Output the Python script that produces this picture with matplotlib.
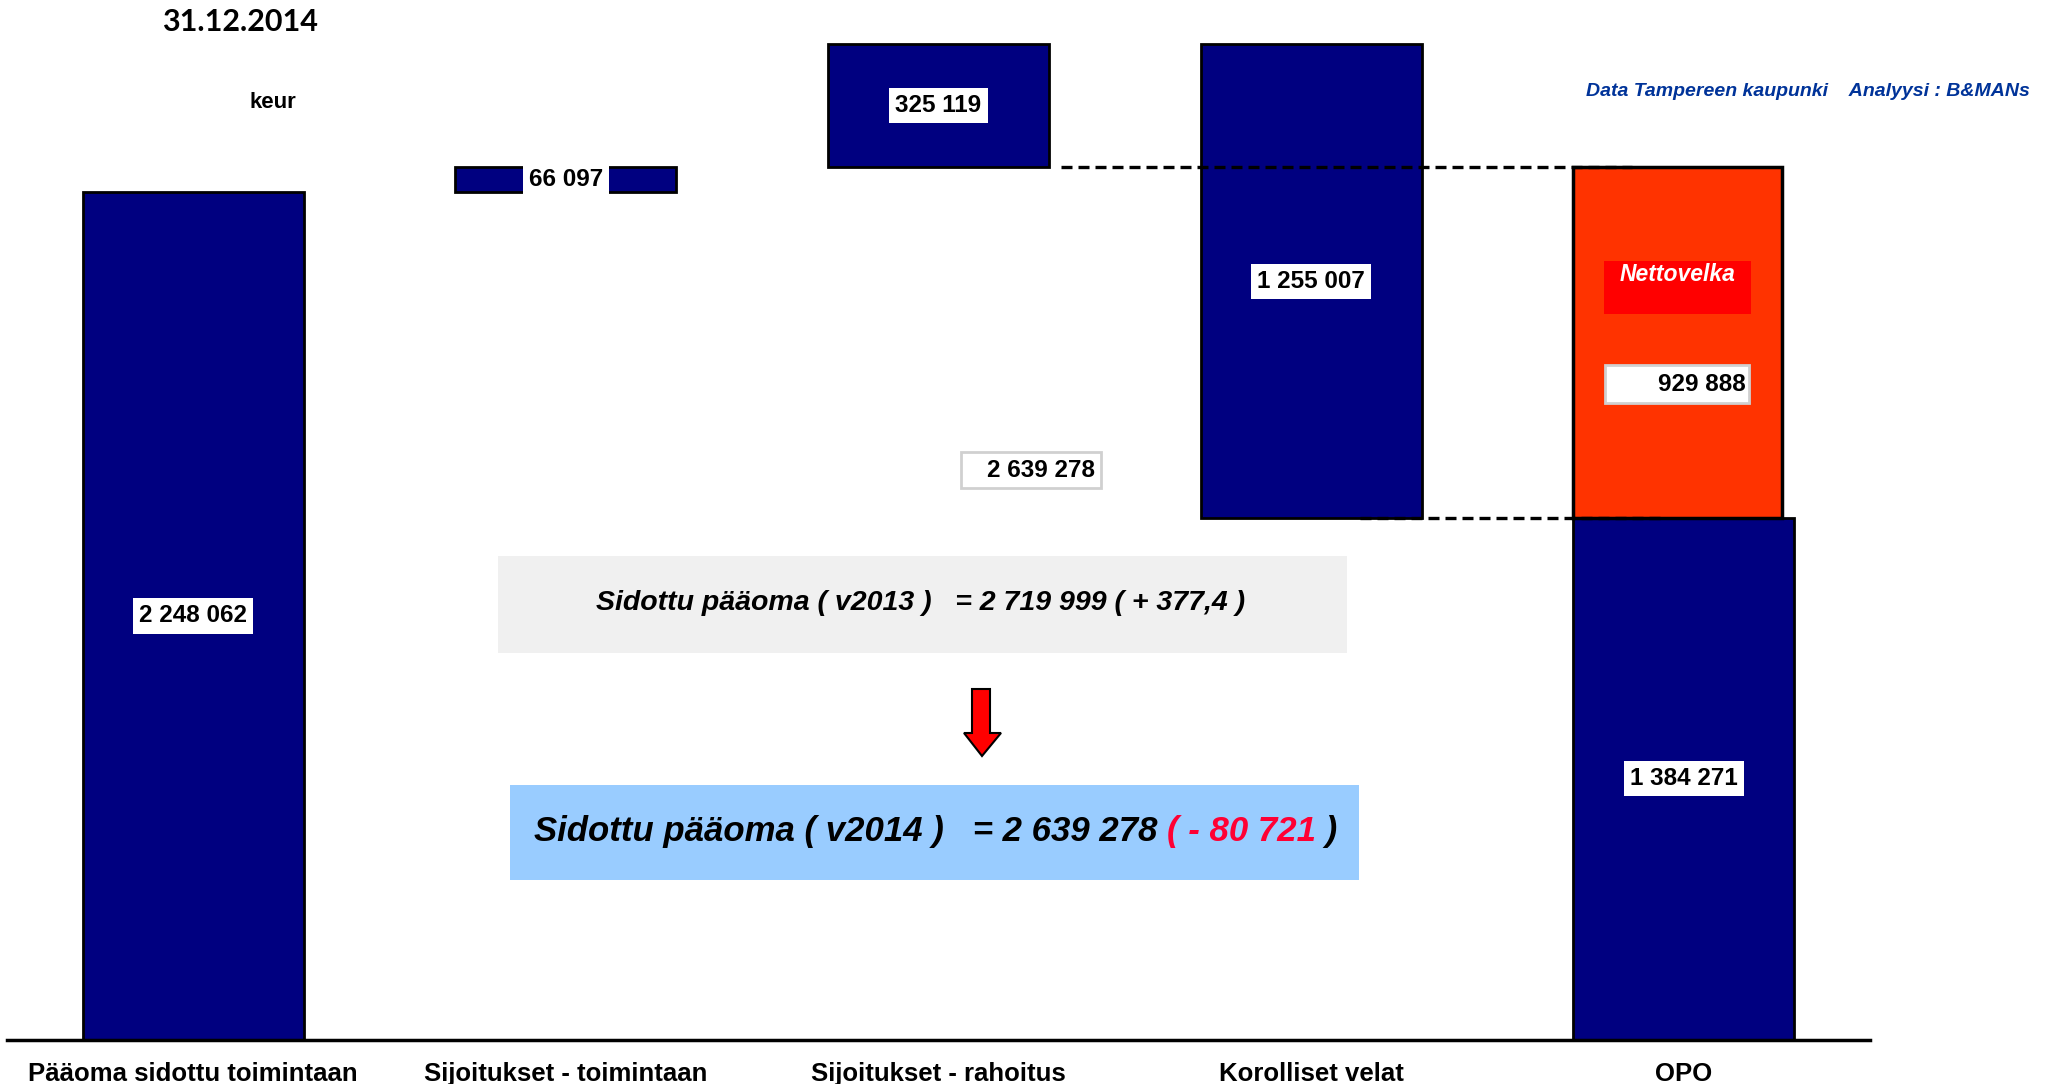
import matplotlib.pyplot as plt
from matplotlib.patches import Rectangle, Polygon

categories = ["Pääoma sidottu toimintaan", "Sijoitukset - toimintaan",
              "Sijoitukset - rahoitus", "Korolliset velat", "OPO"]
# waterfall steps (keur): + + + - , last one is the OPO total
values = [2248062, 66097, 325119, -1255007, 1384271]
netto = 929888
sidottu_2014 = 2639278
sidottu_2013 = 2719999
muutos_2013 = "+ 377,4"
muutos_2014 = -80721


def fmt(v):
    return f"{abs(v):,}".replace(",", " ")


plt.rcParams["font.family"] = ["Liberation Sans", "DejaVu Sans"]
fig = plt.figure(figsize=(20.51, 10.84), dpi=100)
W, H = 2051, 1084
ax = fig.add_axes([7 / W, 44 / H, 1863 / W, 1040 / H])
ax.patch.set_visible(False)

# bottoms and heights of the floating bars
bottoms, heights = [], []
level = 0
for i, v in enumerate(values):
    if i == len(values) - 1:
        bottoms.append(0)
        heights.append(v)
    elif v >= 0:
        bottoms.append(level)
        heights.append(v)
        level += v
    else:
        bottoms.append(sidottu_2014 + v)
        heights.append(-v)

bw = 0.593
ax.bar(range(len(categories)), heights, bottom=bottoms, width=bw,
       color="#000080", edgecolor="black", linewidth=2, zorder=2)

# Nettovelka bar on top of OPO
opo = values[-1]
ax.bar(4 - bw / 2, netto, bottom=opo, width=0.561, align="edge",
       color="#FF3300", edgecolor="black", linewidth=2.5, zorder=3)

# dashed guide lines
ax.plot([2.33, 3.86], [opo + netto] * 2, color="black", lw=2.4,
        linestyle=(0, (3.3, 1.8)), zorder=4)
ax.plot([3.13, 3.95], [opo] * 2, color="black", lw=2.4,
        linestyle=(0, (3.3, 1.8)), zorder=4)

# value labels
for i, (b, h, v) in enumerate(zip(bottoms, heights, values)):
    ax.text(i, b + h / 2, fmt(v), ha="center", va="center", fontsize=17.5,
            fontweight="bold", zorder=5,
            bbox=dict(facecolor="white", edgecolor="none",
                      boxstyle="square,pad=0.25"))

# Nettovelka label
x0 = 4 - bw / 2
ax.add_patch(Rectangle((x0 + 0.083, 1925000), 0.393, 139000,
                       facecolor="#FF0000", edgecolor="none", zorder=4))
ax.text(x0 + 0.083 + 0.196, 2030000, "Nettovelka", color="white",
        fontsize=16.5, fontweight="bold", style="italic",
        ha="center", va="center", zorder=5)
ax.add_patch(Rectangle((x0 + 0.086, 1688000), 0.386, 100600,
                       facecolor="white", edgecolor="#D0D0D0", lw=2, zorder=4))
ax.text(x0 + 0.462, 1738000, fmt(netto), ha="right", va="center",
        fontsize=17.5, fontweight="bold", zorder=5)

# Sidottu pääoma total label
ax.add_patch(Rectangle((2.06, 1463900), 0.375, 93700,
                       facecolor="white", edgecolor="#D0D0D0", lw=2, zorder=4))
ax.text(2.42, 1510000, fmt(sidottu_2014), ha="right", va="center",
        fontsize=17.5, fontweight="bold", zorder=5)

ax.set_xlim(-0.5, 4.5)
ax.set_ylim(0, 1040 * 2651)
ax.set_xticks(range(len(categories)))
ax.set_xticklabels(categories, fontsize=18.5, fontweight="bold")
ax.tick_params(axis="x", length=0, pad=16)
ax.set_yticks([])
for s in ["top", "left", "right"]:
    ax.spines[s].set_visible(False)
ax.spines["bottom"].set_linewidth(2.5)
ax.spines["bottom"].set_zorder(6)

# summary boxes
fig.add_artist(Rectangle((498 / W, 1 - 653 / H), 849 / W, 97 / H,
                         transform=fig.transFigure, facecolor="#F0F0F0",
                         edgecolor="none", zorder=0))
fig.text(921 / W, 1 - 603 / H,
         f"Sidottu pääoma ( v2013 )   = {fmt(sidottu_2013)} ( {muutos_2013} )",
         ha="center", va="center", fontsize=20.5, fontweight="bold",
         style="italic")

fig.add_artist(Rectangle((510 / W, 1 - 880 / H), 849 / W, 95 / H,
                         transform=fig.transFigure, facecolor="#99CCFF",
                         edgecolor="none", zorder=0))
t1 = fig.text(534 / W, 1 - 832 / H,
              f"Sidottu pääoma ( v2014 )   = {fmt(sidottu_2014)} ",
              ha="left", va="center", fontsize=25, fontweight="bold",
              style="italic")
t2 = plt.annotate(f"( - {fmt(muutos_2014)}", xy=(1, 0), xycoords=t1,
                  va="bottom", ha="left", fontsize=25, fontweight="bold",
                  style="italic", color="#FF0033")
plt.annotate(" )", xy=(1, 0), xycoords=t2, va="bottom", ha="left",
             fontsize=25, fontweight="bold", style="italic", color="black")

# red arrow between the boxes
pts = [(972, 689), (990, 689), (990, 733), (1001, 733), (982, 756),
       (964, 733), (972, 733)]
fig.add_artist(Polygon([(x / W, 1 - y / H) for x, y in pts], closed=True,
                       transform=fig.transFigure, facecolor="#FF0000",
                       edgecolor="black", lw=1.5))

fig.text(162 / W, 1 - 22 / H, "31.12.2014", ha="left", va="center",
         fontsize=22, fontweight="bold", family="Lato")
fig.text(273 / W, 1 - 103 / H, "keur", ha="center", va="center",
         fontsize=16, fontweight="bold")
fig.text(2030 / W, 1 - 92 / H,
         "Data Tampereen kaupunki    Analyysi : B&MANs", ha="right",
         va="center", fontsize=14, fontweight="bold", style="italic",
         color="#003399")

fig.savefig("out.png", dpi=100)
